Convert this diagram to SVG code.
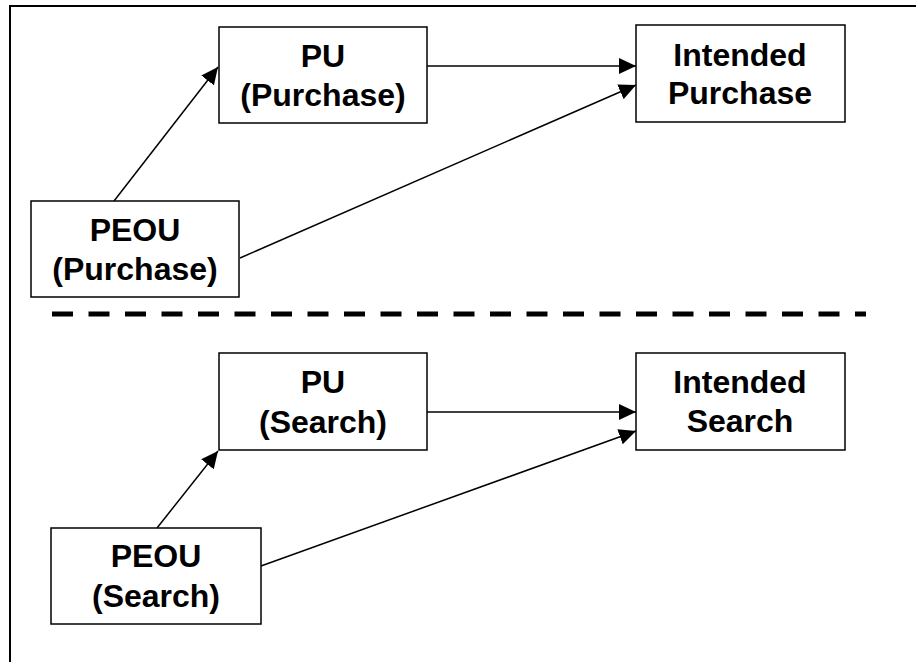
<svg xmlns="http://www.w3.org/2000/svg" width="916" height="662" viewBox="0 0 916 662">
<style>
.box{fill:#fff;stroke:#000;stroke-width:1.5}
.t{font-family:"Liberation Sans",Arial,sans-serif;font-weight:bold;font-size:32px;text-anchor:middle;fill:#000}
.c{stroke:#000;stroke-width:1.5;fill:none;marker-end:url(#ah)}
</style>
<defs>
<marker id="ah" markerUnits="userSpaceOnUse" markerWidth="18" markerHeight="16" refX="17" refY="8" orient="auto">
<path d="M0,0 L17,8 L0,16 Z" fill="#000"/>
</marker>
</defs>
<rect x="10" y="6" width="920" height="670" fill="none" stroke="#000" stroke-width="2"/>
<line x1="52" y1="314" x2="866" y2="314" stroke="#000" stroke-width="5" stroke-dasharray="21 15.5"/>
<g id="connectors">
<line class="c" x1="114" y1="201" x2="218" y2="67"/>
<line class="c" x1="427" y1="66" x2="636" y2="66"/>
<line class="c" x1="240" y1="258" x2="636" y2="85"/>
<line class="c" x1="157" y1="528" x2="218" y2="451"/>
<line class="c" x1="427" y1="412" x2="636" y2="412"/>
<line class="c" x1="261" y1="566" x2="636" y2="431"/>
</g>
<g id="pu-purchase">
<rect class="box" x="219" y="27" width="208" height="96"/>
<text class="t" x="323" y="67">PU</text>
<text class="t" x="323" y="106">(Purchase)</text>
</g>
<g id="intended-purchase">
<rect class="box" x="636" y="25" width="209" height="97"/>
<text class="t" x="740" y="66">Intended</text>
<text class="t" x="740" y="104">Purchase</text>
</g>
<g id="peou-purchase">
<rect class="box" x="31" y="201" width="208" height="96"/>
<text class="t" x="135" y="241">PEOU</text>
<text class="t" x="135" y="280">(Purchase)</text>
</g>
<g id="pu-search">
<rect class="box" x="219" y="353" width="208" height="97"/>
<text class="t" x="323" y="393">PU</text>
<text class="t" x="323" y="433">(Search)</text>
</g>
<g id="intended-search">
<rect class="box" x="636" y="353" width="209" height="97"/>
<text class="t" x="740" y="393">Intended</text>
<text class="t" x="740" y="432">Search</text>
</g>
<g id="peou-search">
<rect class="box" x="51" y="528" width="210" height="96"/>
<text class="t" x="156" y="567">PEOU</text>
<text class="t" x="156" y="607">(Search)</text>
</g>
</svg>
